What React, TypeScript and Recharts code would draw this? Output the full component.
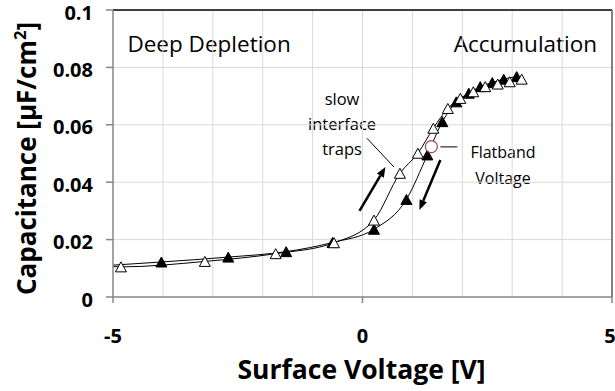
import React from 'react';
import {
  ComposedChart,
  Line,
  Scatter,
  XAxis,
  YAxis,
  ReferenceLine,
  ReferenceArea,
} from 'recharts';

// ---- Data ----
const openVoltage = [-4.84, -3.16, -1.74, -0.57, 0.23, 0.75, 1.11, 1.42, 1.71, 1.96, 2.22, 2.46, 2.71, 2.95, 3.19];
const openCap = [0.0105, 0.0124, 0.0151, 0.0189, 0.0268, 0.0431, 0.0501, 0.0588, 0.0657, 0.0692, 0.0715, 0.0733, 0.0742, 0.075, 0.0759];
const filledVoltage = [-4.03, -2.69, -1.53, -0.6, 0.23, 0.88, 1.3, 1.6, 1.88, 2.13, 2.36, 2.6, 2.83, 3.09];
const filledCap = [0.0122, 0.0139, 0.0158, 0.019, 0.0236, 0.034, 0.0495, 0.0611, 0.068, 0.071, 0.0733, 0.0747, 0.0759, 0.0768];
// where each smoothed curve begins at the left edge of the plot
const openCurveStart = { v: -5, c: 0.0106 };
const filledCurveStart = { v: -5, c: 0.0111 };
const flatbandVoltage = [1.38];
const flatbandCap = [0.0524];

const xTicks = [-5, 0, 5];
const xGrid = [-4, -3, -2, -1, 0, 1, 2, 3, 4];
const yTicks = [0, 0.02, 0.04, 0.06, 0.08, 0.1];
const yGrid = [0.02, 0.04, 0.06, 0.08];

const openData = [
  { ...openCurveStart, hide: true },
  ...openVoltage.map((v, i) => ({ v, c: openCap[i] })),
];
const filledData = [
  { ...filledCurveStart, hide: true },
  ...filledVoltage.map((v, i) => ({ v, c: filledCap[i] })),
];
const flatbandData = flatbandVoltage.map((v, i) => ({ v, c: flatbandCap[i] }));

const FONT = "'Open Sans', 'Liberation Sans', sans-serif";
const GRID = '#d9d9d9';

const triangle = (fill: string) => (props: any) => {
  const { cx, cy, index, payload } = props;
  if (cx == null || cy == null || (payload && payload.hide)) return <g key={`n${index}`} />;
  const w = 11;
  const h = 10;
  const pts = `${cx},${cy - h / 2} ${cx - w / 2},${cy + h / 2} ${cx + w / 2},${cy + h / 2}`;
  return <polygon key={`t${index}`} points={pts} fill={fill} stroke="#000" strokeWidth={1} />;
};

const arrowShape = (props: any) => {
  const { x1, y1, x2, y2 } = props;
  const ang = Math.atan2(y2 - y1, x2 - x1);
  const L = 10;
  const W = 4;
  const bx = x2 - L * Math.cos(ang);
  const by = y2 - L * Math.sin(ang);
  const px = -Math.sin(ang) * W;
  const py = Math.cos(ang) * W;
  return (
    <g>
      <line x1={x1} y1={y1} x2={bx} y2={by} stroke="#000" strokeWidth={2.5} />
      <polygon points={`${x2},${y2} ${bx + px},${by + py} ${bx - px},${by - py}`} fill="#000" />
    </g>
  );
};

const boxText = (lines: string[], offsets: number[], size: number) => (props: any) => {
  const { viewBox } = props;
  if (!viewBox) return null;
  const cx = viewBox.x + viewBox.width / 2;
  return (
    <text textAnchor="middle" fontFamily={FONT} fontSize={size} fill="#000">
      {lines.map((l, i) => (
        <tspan key={i} x={cx} y={viewBox.y + offsets[i]}>
          {l}
        </tspan>
      ))}
    </text>
  );
};

const xTitle = (props: any) => {
  const { viewBox } = props;
  if (!viewBox) return null;
  const cx = viewBox.x + viewBox.width / 2 - 1;
  return (
    <text x={cx} y={viewBox.y + 82} textAnchor="middle" fontFamily={FONT} fontWeight="bold" fontSize={26.5} fill="#000">
      Surface Voltage [V]
    </text>
  );
};

const yTitle = (props: any) => {
  const { viewBox } = props;
  if (!viewBox) return null;
  const x = viewBox.x + 36;
  const y = viewBox.y + viewBox.height / 2 + 5;
  return (
    <text
      x={x}
      y={y}
      transform={`rotate(-90, ${x}, ${y})`}
      textAnchor="middle"
      fontFamily={FONT}
      fontWeight="bold"
      fontSize={26}
      fill="#000"
    >
      Capacitance [µF/cm
      <tspan dy={-10} fontSize={16.5}>2</tspan>
      <tspan dy={10}>]</tspan>
    </text>
  );
};

const tickStyle = { fontFamily: FONT, fontWeight: 'bold' as const, fontSize: 20, fill: '#000' };

const YTick = (props: any) => {
  const { x, y, payload } = props;
  return (
    <text x={x} y={y + 2.5} dy="0.355em" textAnchor="end" {...tickStyle}>
      {String(payload.value)}
    </text>
  );
};

export default function App() {
  return (
    <div style={{ position: 'absolute', left: 0, top: 0, background: '#fff' }}>
      <ComposedChart width={615} height={391} margin={{ top: 10, right: 3, bottom: 0, left: 0 }}>
        {xGrid.map((g) => (
          <ReferenceLine key={`gx${g}`} x={g} stroke={GRID} strokeWidth={1} />
        ))}
        {yGrid.map((g) => (
          <ReferenceLine key={`gy${g}`} y={g} stroke={GRID} strokeWidth={1} />
        ))}
        <XAxis
          type="number"
          dataKey="v"
          domain={[-5, 5]}
          ticks={xTicks}
          allowDataOverflow
          height={94}
          tickSize={6}
          tickMargin={26}
          stroke="#868686"
          strokeWidth={1.5}
          tick={tickStyle}
          label={xTitle}
        />
        <YAxis
          type="number"
          dataKey="c"
          domain={[0, 0.1]}
          ticks={yTicks}
          allowDataOverflow
          width={113}
          tickSize={7}
          tickMargin={13}
          stroke="#868686"
          strokeWidth={1.5}
          tick={<YTick />}
          label={yTitle}
        />
        <ReferenceLine y={0.1} stroke="#000" strokeWidth={1.5} />
        <ReferenceLine x={5} stroke="#595959" strokeWidth={1.5} />

        <ReferenceArea x1={-4.81} x2={-1.34} y1={0.0812} y2={0.0958} fill="#fff" fillOpacity={1} stroke="none"
          label={boxText(['Deep Depletion'], [30], 22.5)} />
        <ReferenceArea x1={1.7} x2={4.83} y1={0.0812} y2={0.0958} fill="#fff" fillOpacity={1} stroke="none"
          label={boxText(['Accumulation'], [30], 22.5)} />
        <ReferenceArea x1={-1.24} x2={0.42} y1={0.046} y2={0.0756} fill="#fff" fillOpacity={1} stroke="none"
          label={boxText(['slow', 'interface', 'traps'], [25, 50, 75], 16.5)} />
        <ReferenceArea x1={2.06} x2={3.57} y1={0.0366} y2={0.0557} fill="#fff" fillOpacity={1} stroke="none"
          label={boxText(['Flatband', 'Voltage'], [21, 47], 16)} />

        <ReferenceLine segment={[{ x: 0.09, y: 0.0553 }, { x: 0.63, y: 0.0453 }]} stroke="#000" strokeWidth={1} />
        <ReferenceLine segment={[{ x: 1.56, y: 0.0523 }, { x: 1.9, y: 0.0523 }]} stroke="#000" strokeWidth={1} />
        <ReferenceLine segment={[{ x: -0.06, y: 0.03 }, { x: 0.46, y: 0.0453 }]} shape={arrowShape} />
        <ReferenceLine segment={[{ x: 1.56, y: 0.0477 }, { x: 1.14, y: 0.0303 }]} shape={arrowShape} />

        <Line
          data={filledData}
          dataKey="c"
          type="monotone"
          stroke="#000"
          strokeWidth={1}
          dot={triangle('#000')}
          activeDot={false}
          isAnimationActive={false}
        />
        <Line
          data={openData}
          dataKey="c"
          type="monotone"
          stroke="#000"
          strokeWidth={1}
          dot={triangle('#fff')}
          activeDot={false}
          isAnimationActive={false}
        />
        <Scatter
          data={flatbandData}
          dataKey="c"
          isAnimationActive={false}
          shape={(p: any) => <circle cx={p.cx} cy={p.cy} r={6} fill="#fff" stroke="#a0406a" strokeWidth={1.2} />}
        />
      </ComposedChart>
    </div>
  );
}
